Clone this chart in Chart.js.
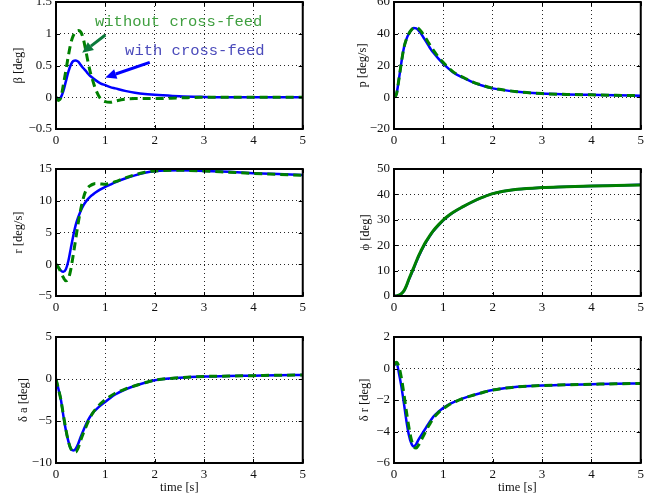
<!DOCTYPE html>
<html><head><meta charset="utf-8">
<script src="https://cdn.jsdelivr.net/npm/chart.js@4.4.1/dist/chart.umd.min.js"></script>
<style>
html,body{margin:0;padding:0;background:#fff;}
body{width:663px;height:499px;overflow:hidden;position:relative;}
canvas{position:absolute;}
</style>
</head><body>
<script>
// ---- data ----
const time = [0,0.05,0.1,0.15,0.2,0.25,0.3,0.35,0.4,0.45,0.5,0.55,0.6,0.65,0.7,0.75,0.8,0.9,1.0,1.1,1.2,1.4,1.6,1.8,2.0,2.5,3.0,3.5,4.0,4.5,5.0];
const xTicks = [0,1,2,3,4,5];

const betaWith    = [0,-0.03,0.0,0.1,0.25,0.4,0.51,0.57,0.58,0.56,0.51,0.46,0.42,0.37,0.33,0.30,0.27,0.22,0.19,0.16,0.14,0.10,0.07,0.05,0.04,0.015,0.005,0,0,0,0];
const betaWithout = [0,-0.05,0.0,0.2,0.42,0.65,0.85,0.97,1.03,1.05,1.03,0.93,0.75,0.55,0.38,0.25,0.13,-0.02,-0.07,-0.08,-0.06,-0.03,-0.02,-0.02,-0.02,-0.01,0,0,0,0,0];
const betaTicks = [-0.5,0,0.5,1,1.5];

const pWith    = [0,2,11.5,22,31,36.5,40,42.3,43.6,43.4,42,40,37.5,35,32.5,30,28,24.3,21,18.2,15.6,12.3,9.4,7.2,5.6,3.5,2.3,1.8,1.5,1.2,1.0];
const pWithout = [0,2,11.5,22,31,36.5,40,42.4,43.7,43.9,43.2,41.5,39.2,36.8,34.3,31.8,29.5,25.3,21.8,18.7,16,12.6,9.6,7.4,5.7,3.5,2.3,1.8,1.5,1.2,1.0];
const pTicks = [-20,0,20,40,60];

const rWith    = [0,-0.5,-1.0,-1.2,-0.8,0.5,2.5,4.5,6.2,7.4,8.4,9.2,9.8,10.3,10.7,11.0,11.3,11.8,12.2,12.55,12.9,13.5,14.0,14.4,14.65,14.8,14.7,14.55,14.35,14.2,14.05];
const rWithout = [0,-0.5,-1.3,-2.1,-2.6,-2.3,-0.8,1.5,4.0,6.5,8.6,10.3,11.5,12.1,12.4,12.6,12.7,12.65,12.6,12.75,13.0,13.6,14.1,14.5,14.7,14.8,14.7,14.5,14.3,14.15,14.0];
const rTicks = [-5,0,5,10,15];

const phiWith    = [0,0.05,0.3,0.9,1.9,3.8,6.3,8.6,10.9,13.3,15.6,17.6,19.5,21.2,22.8,24.3,25.6,27.8,29.8,31.5,32.9,35.2,37.2,38.9,40.3,42.0,42.7,43.0,43.3,43.5,43.8];
const phiWithout = [0,0.05,0.3,0.9,2.0,4.0,6.6,8.9,11.2,13.6,15.9,17.9,19.8,21.5,23.0,24.5,25.8,28.0,30.0,31.6,33.0,35.2,37.2,38.9,40.3,42.0,42.7,43.0,43.3,43.5,43.7];
const phiTicks = [0,10,20,30,40,50];

const daWith    = [0,-1.2,-2.5,-4.4,-6.1,-7.4,-8.3,-8.5,-8.3,-7.7,-6.9,-6.2,-5.5,-4.9,-4.4,-4.0,-3.7,-3.15,-2.7,-2.25,-1.85,-1.25,-0.8,-0.45,-0.15,0.15,0.3,0.35,0.4,0.45,0.47];
const daWithout = [0,-1.2,-2.5,-4.3,-6.0,-7.4,-8.3,-8.65,-8.7,-8.2,-7.3,-6.5,-5.8,-5.1,-4.5,-4.0,-3.6,-2.95,-2.45,-2.05,-1.7,-1.2,-0.8,-0.45,-0.15,0.15,0.3,0.35,0.4,0.45,0.47];
const daTicks = [-10,-5,0,5];

const drWith    = [0.2,0.4,-0.3,-1.15,-2.2,-3.3,-4.2,-4.75,-4.95,-4.8,-4.5,-4.25,-4.0,-3.75,-3.5,-3.27,-3.05,-2.75,-2.5,-2.3,-2.15,-1.9,-1.7,-1.52,-1.37,-1.16,-1.08,-1.03,-1.0,-0.97,-0.95];
const drWithout = [0.2,0.4,0.1,-0.6,-1.6,-2.7,-3.7,-4.5,-4.95,-5.05,-4.85,-4.55,-4.25,-3.95,-3.65,-3.4,-3.15,-2.8,-2.55,-2.33,-2.17,-1.9,-1.7,-1.52,-1.37,-1.16,-1.08,-1.03,-1.0,-0.97,-0.95];
const drTicks = [-6,-4,-2,0,2];

// annotations (data units of the beta panel)
const annotTexts = ["without cross-feed", "with cross-feed"];
const annotTextPos = [[0.79, 1.19], [1.40, 0.735]];
const annotArrows = [[[1.0, 0.98], [0.53, 0.70]], [[1.9, 0.55], [1.0, 0.31]]];

// ---- layout ----
const SERIF = '"Liberation Serif", "Times New Roman", serif';
const colLeft = [0, 338];
const rowTop = [2, 169, 337];
const rowH = [127, 127, 126];
const PADTOP = 14;

const panels = [
  {col:0,row:0,label:'β [deg]',  ticks:betaTicks, w:betaWith, wo:betaWithout, tpad:11.5, annot:true},
  {col:1,row:0,label:'p [deg/s]',ticks:pTicks,    w:pWith,    wo:pWithout,    tpad:17},
  {col:0,row:1,label:'r [deg/s]',ticks:rTicks,    w:rWith,    wo:rWithout,    tpad:11.5},
  {col:1,row:1,label:'ϕ [deg]',  ticks:phiTicks,  w:phiWith,  wo:phiWithout,  tpad:20, solid:true},
  {col:0,row:2,label:'δ a [deg]',ticks:daTicks,   w:daWith,   wo:daWithout,   tpad:16.5},
  {col:1,row:2,label:'δ r [deg]',ticks:drTicks,   w:drWith,   wo:drWithout,   tpad:19}
];

const fmt = v => String(v).replace('-', '\u2212');

const framePlugin = {
  id:'frame',
  afterDraw(chart){
    const {ctx, chartArea:a, scales:{x,y}} = chart;
    ctx.save();
    ctx.strokeStyle = '#000';
    ctx.lineWidth = 1;
    ctx.beginPath();
    x.ticks.forEach(t => {
      const px = Math.round(x.getPixelForValue(t.value)) + 0.5;
      ctx.moveTo(px, a.bottom); ctx.lineTo(px, a.bottom - 4);
      ctx.moveTo(px, a.top); ctx.lineTo(px, a.top + 4);
    });
    y.ticks.forEach(t => {
      const py = Math.round(y.getPixelForValue(t.value)) + 0.5;
      ctx.moveTo(a.left, py); ctx.lineTo(a.left + 4, py);
      ctx.moveTo(a.right, py); ctx.lineTo(a.right - 4, py);
    });
    ctx.stroke();
    ctx.lineWidth = 2;
    ctx.strokeRect(a.left, a.top, a.right - a.left, a.bottom - a.top);
    ctx.restore();
  }
};

function drawArrow(ctx, x1, y1, x2, y2, color){
  const ang = Math.atan2(y2 - y1, x2 - x1);
  const L = 11, W = 5;
  const bx = x2 - L*Math.cos(ang), by = y2 - L*Math.sin(ang);
  ctx.strokeStyle = color; ctx.fillStyle = color; ctx.lineWidth = 3;
  ctx.beginPath(); ctx.moveTo(x1, y1); ctx.lineTo(bx, by); ctx.stroke();
  ctx.beginPath();
  ctx.moveTo(x2, y2);
  ctx.lineTo(bx - W*Math.sin(ang), by + W*Math.cos(ang));
  ctx.lineTo(bx + W*Math.sin(ang), by - W*Math.cos(ang));
  ctx.closePath(); ctx.fill();
}

const annotPlugin = {
  id:'annot',
  afterDatasetsDraw(chart){
    const {ctx, scales:{x,y}} = chart;
    ctx.save();
    const textColors = ['#3f9f3f', '#4b4bbb'];
    const arrowColors = ['#0a7a3a', '#0000ff'];
    ctx.font = '15.5px "Liberation Mono", "Courier New", monospace';
    ctx.textBaseline = 'middle'; ctx.textAlign = 'left';
    annotTexts.forEach((s, i) => {
      ctx.fillStyle = textColors[i];
      ctx.fillText(s, x.getPixelForValue(annotTextPos[i][0]), y.getPixelForValue(annotTextPos[i][1]));
    });
    annotArrows.forEach((ar, i) => {
      drawArrow(ctx, x.getPixelForValue(ar[0][0]), y.getPixelForValue(ar[0][1]),
                     x.getPixelForValue(ar[1][0]), y.getPixelForValue(ar[1][1]), arrowColors[i]);
    });
    ctx.restore();
  }
};

panels.forEach(p => {
  const xh = p.row === 2 ? 41 : 24;
  const W = 310, H = PADTOP + rowH[p.row] + xh;
  const c = document.createElement('canvas');
  c.width = W; c.height = H;
  c.style.left = colLeft[p.col] + 'px';
  c.style.top = (rowTop[p.row] - PADTOP) + 'px';
  c.style.width = W + 'px'; c.style.height = H + 'px';
  document.body.appendChild(c);
  const yMin = p.ticks[0], yMax = p.ticks[p.ticks.length - 1];
  const gridCommon = {color:'rgba(0,0,0,0.85)', lineWidth:1, drawTicks:false, borderDash:[1,3]};
  new Chart(c, {
    type:'line',
    data:{datasets:[
      {data: time.map((t,i)=>({x:t, y:p.wo[i]})), borderColor:'#008000', borderWidth:3,
       borderDash: p.solid ? [] : [8,5], pointRadius:0, cubicInterpolationMode:'monotone', fill:false},
      {data: time.map((t,i)=>({x:t, y:p.w[i]})), borderColor:'#0000ff', borderWidth:2.5,
       pointRadius:0, cubicInterpolationMode:'monotone', fill:false}
    ]},
    options:{
      responsive:false, animation:false, events:[],
      layout:{padding:{top:PADTOP, right:7, left:0, bottom:0}},
      plugins:{legend:{display:false}, tooltip:{enabled:false}},
      scales:{
        x:{type:'linear', min:0, max:5,
           afterBuildTicks: s => { s.ticks = xTicks.map(v => ({value:v})); },
           afterFit: s => { s.height = xh; },
           grid: gridCommon,
           border:{display:false, dash:[1,3]},
           ticks:{font:{family:SERIF, size:13}, color:'#111', padding:4, maxRotation:0, autoSkip:false, callback: v => fmt(v)},
           title: p.row === 2 ? {display:true, text:'time [s]', font:{family:SERIF, size:12.5}, color:'#111', padding:{top:0, bottom:9}} : {display:false}
        },
        y:{type:'linear', min:yMin, max:yMax,
           afterBuildTicks: s => { s.ticks = p.ticks.map(v => ({value:v})); },
           afterFit: s => { s.width = 56; },
           grid: gridCommon,
           border:{display:false, dash:[1,3]},
           ticks:{font:{family:SERIF, size:13}, color:'#111', padding:4, autoSkip:false, callback: v => fmt(v)},
           title:{display:true, text:p.label, font:{family:SERIF, size:12.5}, color:'#111', padding:{top:p.tpad, bottom:0}}
        }
      }
    },
    plugins: p.annot ? [annotPlugin, framePlugin] : [framePlugin]
  });
});
</script>
</body></html>
